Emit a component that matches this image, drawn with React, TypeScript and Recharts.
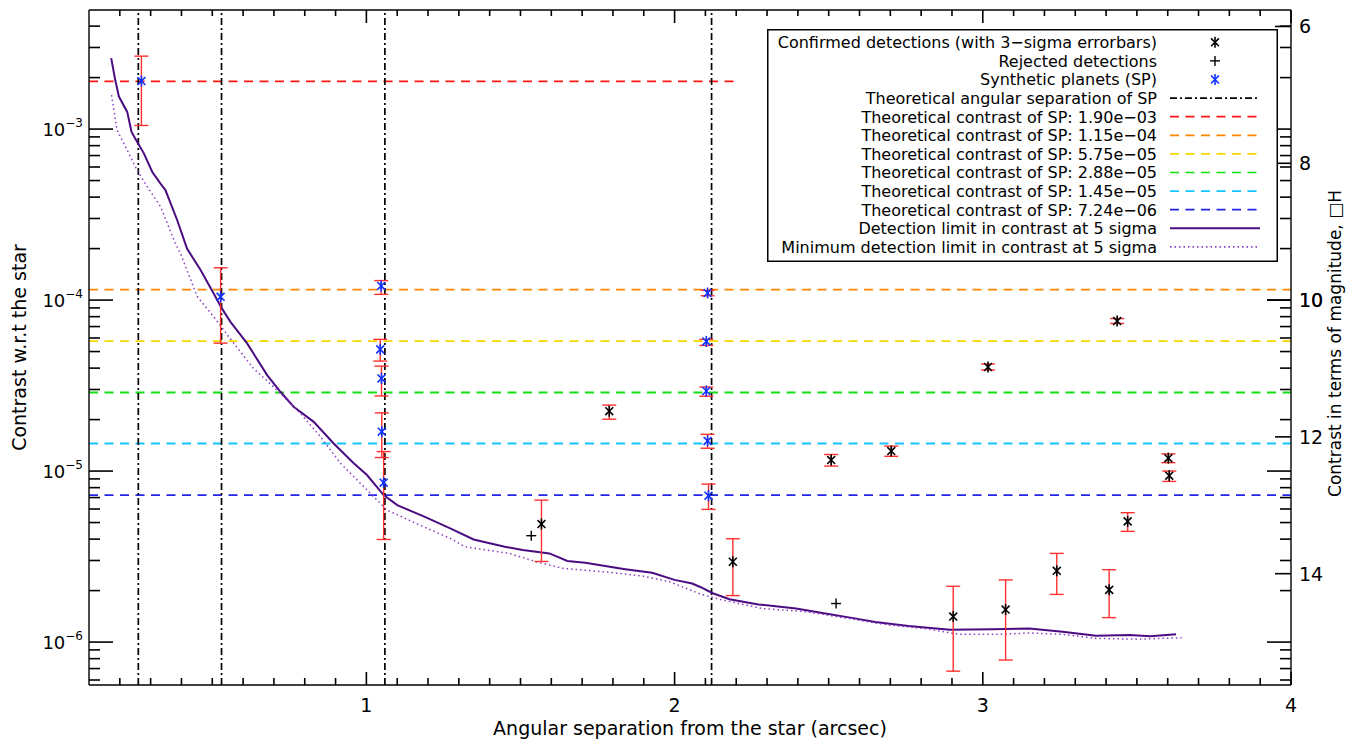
import React from "react";
import {
  ComposedChart,
  XAxis,
  YAxis,
  Line,
  Scatter,
  ErrorBar,
  ReferenceLine,
} from "recharts";

// detection limit curves (separation in arcsec, contrast w.r.t. the star)
const limitSep = [
  0.172, 0.185, 0.197, 0.224, 0.238, 0.256, 0.278, 0.305, 0.332, 0.348, 0.386,
  0.418, 0.462, 0.505, 0.529, 0.559, 0.613, 0.678, 0.721, 0.764, 0.829, 0.894,
  0.959, 1.002, 1.056, 1.1, 1.188, 1.272, 1.348, 1.449, 1.507, 1.594, 1.652,
  1.71, 1.84, 1.927, 2.0, 2.057, 2.083, 2.124, 2.178, 2.272, 2.394, 2.489, 2.57,
  2.651, 2.759, 2.894, 3.029, 3.151, 3.259, 3.367, 3.476, 3.543, 3.627,
];
const limitContrast = [
  2.6e-3, 1.94e-3, 1.55e-3, 1.26e-3, 9.63e-4, 8.43e-4, 7.21e-4, 5.63e-4, 4.8e-4,
  4.4e-4, 2.94e-4, 2.0e-4, 1.5e-4, 1.09e-4, 9.06e-5, 7.46e-5, 5.58e-5, 3.64e-5,
  2.91e-5, 2.38e-5, 1.94e-5, 1.45e-5, 1.11e-5, 9.48e-6, 7.24e-6, 6.32e-6,
  5.41e-6, 4.62e-6, 3.98e-6, 3.61e-6, 3.45e-6, 3.3e-6, 2.98e-6, 2.91e-6,
  2.67e-6, 2.54e-6, 2.31e-6, 2.2e-6, 2.1e-6, 1.93e-6, 1.78e-6, 1.66e-6, 1.57e-6,
  1.47e-6, 1.39e-6, 1.31e-6, 1.24e-6, 1.18e-6, 1.19e-6, 1.2e-6, 1.15e-6,
  1.09e-6, 1.1e-6, 1.08e-6, 1.11e-6,
];
const minLimitSep = [
  0.173, 0.191, 0.224, 0.256, 0.289, 0.332, 0.38, 0.397, 0.451, 0.505, 0.57,
  0.634, 0.71, 0.786, 0.851, 0.916, 0.981, 1.013, 1.067, 1.186, 1.272, 1.319,
  1.464, 1.551, 1.637, 1.768, 1.898, 1.985, 2.083, 2.151, 2.286, 2.421, 2.556,
  2.692, 2.827, 2.921, 3.056, 3.151, 3.259, 3.367, 3.502, 3.645,
];
const minLimitContrast = [
  1.58e-3, 9.86e-4, 7.53e-4, 5.75e-4, 4.6e-4, 3.52e-4, 2.15e-4, 1.87e-4,
  1.05e-4, 7.98e-5, 5.58e-5, 3.98e-5, 2.98e-5, 2.17e-5, 1.59e-5, 1.11e-5,
  8.47e-6, 7.41e-6, 5.91e-6, 4.72e-6, 4.04e-6, 3.61e-6, 3.3e-6, 2.95e-6, 2.7e-6,
  2.58e-6, 2.43e-6, 2.25e-6, 1.91e-6, 1.77e-6, 1.57e-6, 1.51e-6, 1.38e-6,
  1.26e-6, 1.19e-6, 1.11e-6, 1.11e-6, 1.13e-6, 1.11e-6, 1.05e-6, 1.04e-6,
  1.06e-6,
];

// synthetic planets (measured contrast with 3-sigma bounds)
const spSep = [0.27, 0.527, 1.048, 1.045, 1.049, 1.05, 1.056, 2.107, 2.103, 2.103, 2.107, 2.11];
const spContrast = [1.91e-3, 1.045e-4, 1.21e-4, 5.15e-5, 3.48e-5, 1.7e-5, 8.55e-6, 1.1e-4, 5.73e-5, 2.94e-5, 1.5e-5, 7.18e-6];
const spLow = [1.05e-3, 5.6e-5, 1.08e-4, 4.4e-5, 2.75e-5, 1.2e-5, 3.98e-6, 1.06e-4, 5.43e-5, 2.74e-5, 1.36e-5, 5.97e-6];
const spHigh = [2.67e-3, 1.545e-4, 1.3e-4, 5.89e-5, 4.11e-5, 2.19e-5, 1.3e-5, 1.14e-4, 5.89e-5, 3.1e-5, 1.64e-5, 8.39e-6];

// confirmed detections
const detSep = [1.568, 1.788, 2.189, 2.508, 2.703, 2.904, 3.017, 3.074, 3.24, 3.41, 3.436, 3.47, 3.602, 3.605];
const detContrast = [4.9e-6, 2.24e-5, 2.95e-6, 1.16e-5, 1.31e-5, 1.41e-6, 4.06e-5, 1.55e-6, 2.61e-6, 2.02e-6, 7.54e-5, 5.08e-6, 1.19e-5, 9.4e-6];
const detLow = [2.96e-6, 2.01e-5, 1.87e-6, 1.07e-5, 1.22e-5, 6.76e-7, 3.9e-5, 7.85e-7, 1.9e-6, 1.39e-6, 7.3e-5, 4.44e-6, 1.12e-5, 8.7e-6];
const detHigh = [6.76e-6, 2.43e-5, 4.02e-6, 1.25e-5, 1.4e-5, 2.12e-6, 4.23e-5, 2.31e-6, 3.3e-6, 2.65e-6, 7.8e-5, 5.71e-6, 1.26e-5, 1.0e-5];

// rejected detections
const rejSep = [1.535, 2.524];
const rejContrast = [4.19e-6, 1.68e-6];

// theoretical positions of the synthetic planets
const spTheoSep = [0.26, 0.53, 1.06, 2.12];
const spTheoContrast = [1.9e-3, 1.15e-4, 5.75e-5, 2.88e-5, 1.45e-5, 7.24e-6];
const redLineEnd = 2.2;

const X_DOMAIN = [0.1, 4];
const Y_DOMAIN = [5.61e-7, 4.97e-3];
const magTickLabels = [6, 8, 10, 12, 14];

const LEVEL_COLORS = ["#ff1414", "#ff8400", "#f7d700", "#12e012", "#14c4ff", "#2424e6"];
const LIMIT_COLOR = "#4b0c82";
const MIN_LIMIT_COLOR = "#8a3cc0";
const ERR_COLOR = "#ff3030";
const SP_COLOR = "#1030ff";
const FONT = "DejaVu Sans";

const toMag = (c: number) => -2.5 * Math.log10(c);
const MAG_DOMAIN = [toMag(Y_DOMAIN[1]), toMag(Y_DOMAIN[0])];

const limitData = limitSep.map((x, i) => ({ x, y: limitContrast[i] }));
const minLimitData = minLimitSep.map((x, i) => ({ x, y: minLimitContrast[i] }));
const spData = spSep.map((x, i) => ({
  x,
  y: spContrast[i],
  err: [spContrast[i] - spLow[i], spHigh[i] - spContrast[i]],
}));
const detData = detSep.map((x, i) => ({
  x,
  y: detContrast[i],
  err: [detContrast[i] - detLow[i], detHigh[i] - detContrast[i]],
}));
const rejData = rejSep.map((x, i) => ({ x, y: rejContrast[i] }));

// axis tick positions
const xTicks: number[] = [];
for (let i = 2; i <= 40; i++) xTicks.push(i / 10);
const yTicks: number[] = [];
for (let k = -7; k <= -3; k++) {
  for (let m = 1; m <= 9; m++) {
    const v = m * Math.pow(10, k);
    if (v >= Y_DOMAIN[0] && v <= Y_DOMAIN[1]) yTicks.push(v);
  }
}
const magTicks = [...magTickLabels, ...yTicks.map(toMag)];

const isInt = (v: number) => Math.abs(v - Math.round(v)) < 1e-6;
const TICK_STROKE = { stroke: "#000", strokeWidth: 1.6 };

function fmtContrast(v: number) {
  const [m, e] = v.toExponential(2).split("e");
  const n = parseInt(e, 10);
  return `${m}e${n < 0 ? "\u2212" : "+"}${String(Math.abs(n)).padStart(2, "0")}`;
}

function Asterisk({ cx, cy, color, r = 5.5 }: any) {
  const d = r * 0.72;
  return (
    <g stroke={color} strokeWidth={1.6}>
      <line x1={cx} y1={cy - r} x2={cx} y2={cy + r} />
      <line x1={cx - d} y1={cy - d} x2={cx + d} y2={cy + d} />
      <line x1={cx - d} y1={cy + d} x2={cx + d} y2={cy - d} />
    </g>
  );
}

function Plus({ cx, cy, color, r = 5 }: any) {
  return (
    <g stroke={color} strokeWidth={1.4}>
      <line x1={cx} y1={cy - r} x2={cx} y2={cy + r} />
      <line x1={cx - r} y1={cy} x2={cx + r} y2={cy} />
    </g>
  );
}

// ticks point inwards; the custom tick draws both the mark and the label
function BottomTick(props: any) {
  const x = Number(props.x);
  const y = Number(props.y);
  const major = isInt(props.payload.value);
  return (
    <g>
      <path d={`M${x},${y}V${y - (major ? 13 : 7)}`} {...TICK_STROKE} fill="none" />
      {major && (
        <text x={x} y={y + 27} textAnchor="middle" fontSize={19} fontFamily={FONT} fill="#000">
          {Math.round(props.payload.value)}
        </text>
      )}
    </g>
  );
}

function TopTick(props: any) {
  const x = Number(props.x);
  const y = Number(props.y);
  const major = isInt(props.payload.value);
  return <path d={`M${x},${y}V${y + (major ? 13 : 6)}`} {...TICK_STROKE} fill="none" />;
}

function LeftTick(props: any) {
  const x = Number(props.x);
  const y = Number(props.y);
  const lg = Math.log10(props.payload.value);
  const major = isInt(lg);
  return (
    <g>
      <path d={`M${x},${y}H${x + (major ? 24 : 11)}`} {...TICK_STROKE} fill="none" />
      {major && (
        <text x={x - 6} y={y + 6.5} textAnchor="end" fontSize={18} fontFamily={FONT} fill="#000">
          10
          <tspan dy={-8.5} fontSize={12}>
            {"\u2212" + Math.abs(Math.round(lg))}
          </tspan>
        </text>
      )}
    </g>
  );
}

function RightTick(props: any) {
  const x = Number(props.x);
  const y = Number(props.y);
  const v = props.payload.value;
  const label = isInt(v) && magTickLabels.includes(Math.round(v));
  const decade = isInt(v / 2.5);
  const len = decade ? 24 : label ? 16 : 11;
  return (
    <g>
      <path d={`M${x},${y}H${x - len}`} {...TICK_STROKE} fill="none" />
      {label && (
        <text x={x + 8} y={y + 7} textAnchor="start" fontSize={19} fontFamily={FONT} fill="#000">
          {Math.round(v)}
        </text>
      )}
    </g>
  );
}

const legendRows = [
  { label: "Confirmed detections (with 3\u2212sigma errorbars)", kind: "asterisk", color: "#000" },
  { label: "Rejected detections", kind: "plus", color: "#000" },
  { label: "Synthetic planets (SP)", kind: "asterisk", color: SP_COLOR },
  { label: "Theoretical angular separation of SP", kind: "dashdot", color: "#000" },
  ...spTheoContrast.map((v, i) => ({
    label: `Theoretical contrast of SP: ${fmtContrast(v)}`,
    kind: "dash",
    color: LEVEL_COLORS[i],
  })),
  { label: "Detection limit in contrast at 5 sigma", kind: "solid", color: LIMIT_COLOR },
  { label: "Minimum detection limit in contrast at 5 sigma", kind: "dot", color: MIN_LIMIT_COLOR },
];

function LegendBox() {
  const w = 511;
  const h = 233;
  return (
    <svg
      width={w}
      height={h}
      style={{ position: "absolute", left: 767, top: 29 }}
      fontFamily={FONT}
    >
      <rect x={0.75} y={0.75} width={w - 1.5} height={h - 1.5} fill="#fff" stroke="#000" strokeWidth={1.5} />
      {legendRows.map((row, i) => {
        const yc = 13.3 + i * 18.6;
        let sym: React.ReactNode = null;
        if (row.kind === "asterisk") sym = <Asterisk cx={448} cy={yc} color={row.color} />;
        else if (row.kind === "plus") sym = <Plus cx={448} cy={yc} color={row.color} />;
        else {
          const dash =
            row.kind === "dashdot" ? "7 3 2 3" : row.kind === "dash" ? "9 6.5" : row.kind === "dot" ? "1.5 3" : undefined;
          sym = (
            <line
              x1={403}
              x2={493}
              y1={yc}
              y2={yc}
              stroke={row.color}
              strokeWidth={row.kind === "solid" ? 2 : 1.7}
              strokeDasharray={dash}
            />
          );
        }
        return (
          <g key={row.label}>
            <text x={390} y={yc + 5.8} textAnchor="end" fontSize={16} fill="#000">
              {row.label}
            </text>
            {sym}
          </g>
        );
      })}
    </svg>
  );
}

const axisLine = { stroke: "#000", strokeWidth: 1.4 };

export default function App() {
  return (
    <div style={{ position: "relative", width: 1352, height: 740, background: "#fff" }}>
      <style>{"body{margin:0;}"}</style>
      <ComposedChart
        width={1352}
        height={740}
        margin={{ top: 0, right: 0, bottom: 0, left: 0 }}
        style={{ fontFamily: FONT }}
      >
        <XAxis
          xAxisId={0}
          type="number"
          dataKey="x"
          domain={X_DOMAIN}
          allowDataOverflow
          ticks={xTicks}
          interval={0}
          tickSize={0}
          tickMargin={0}
          tickLine={false}
          tick={(p: any) => <BottomTick {...p} />}
          axisLine={axisLine}
          height={55}
          label={{
            content: ({ viewBox }: any) => (
              <text
                x={viewBox.x + viewBox.width / 2}
                y={viewBox.y + 50}
                textAnchor="middle"
                fontSize={19}
                fontFamily={FONT}
                fill="#000"
              >
                Angular separation from the star (arcsec)
              </text>
            ),
          }}
        />
        <XAxis
          xAxisId="top"
          orientation="top"
          type="number"
          dataKey="x"
          domain={X_DOMAIN}
          allowDataOverflow
          ticks={xTicks}
          interval={0}
          tickSize={0}
          tickMargin={0}
          tickLine={false}
          tick={(p: any) => <TopTick {...p} />}
          axisLine={axisLine}
          height={10}
        />
        <YAxis
          yAxisId={0}
          type="number"
          scale="log"
          dataKey="y"
          domain={Y_DOMAIN}
          allowDataOverflow
          ticks={yTicks}
          interval={0}
          tickSize={0}
          tickMargin={0}
          tickLine={false}
          tick={(p: any) => <LeftTick {...p} />}
          axisLine={axisLine}
          width={89}
          label={{
            content: ({ viewBox }: any) => (
              <text
                transform={`translate(${viewBox.x + 19.5},${viewBox.y + viewBox.height / 2}) rotate(-90)`}
                textAnchor="middle"
                dy="0.36em"
                fontSize={19}
                fontFamily={FONT}
                fill="#000"
              >
                Contrast w.r.t the star
              </text>
            ),
          }}
        />
        <YAxis
          yAxisId="mag"
          orientation="right"
          type="number"
          domain={MAG_DOMAIN}
          reversed
          allowDataOverflow
          ticks={magTicks}
          interval={0}
          tickSize={0}
          tickMargin={0}
          tickLine={false}
          tick={(p: any) => <RightTick {...p} />}
          axisLine={axisLine}
          width={61}
          label={{
            content: ({ viewBox }: any) => (
              <text
                transform={`translate(${viewBox.x + 44},${viewBox.y + viewBox.height / 2 - 4}) rotate(-90)`}
                textAnchor="middle"
                dy="0.36em"
                fontSize={17}
                fontFamily={FONT}
                fill="#000"
              >
                {"Contrast in terms of magnitude, \u25A1H"}
              </text>
            ),
          }}
        />

        <ReferenceLine
          segment={[
            { x: X_DOMAIN[0], y: spTheoContrast[0] },
            { x: redLineEnd, y: spTheoContrast[0] },
          ]}
          stroke={LEVEL_COLORS[0]}
          strokeWidth={1.8}
          strokeDasharray="9 6.5"
        />
        {spTheoContrast.slice(1).map((v, i) => (
          <ReferenceLine
            key={`h${v}`}
            y={v}
            stroke={LEVEL_COLORS[i + 1]}
            strokeWidth={1.8}
            strokeDasharray="9 6.5"
          />
        ))}
        {spTheoSep.map((v) => (
          <ReferenceLine key={`v${v}`} x={v} stroke="#000" strokeWidth={1.7} strokeDasharray="7 3 2 3" />
        ))}

        <Line
          data={limitData}
          dataKey="y"
          type="linear"
          stroke={LIMIT_COLOR}
          strokeWidth={2}
          dot={false}
          isAnimationActive={false}
        />
        <Line
          data={minLimitData}
          dataKey="y"
          type="linear"
          stroke={MIN_LIMIT_COLOR}
          strokeWidth={1.5}
          strokeDasharray="1.5 3"
          dot={false}
          isAnimationActive={false}
        />

        <Scatter
          data={detData}
          dataKey="y"
          isAnimationActive={false}
          shape={(p: any) => <Asterisk cx={p.cx} cy={p.cy} color="#000" />}
        >
          <ErrorBar dataKey="err" direction="y" width={7} stroke={ERR_COLOR} strokeWidth={1.4} />
        </Scatter>
        <Scatter
          data={spData}
          dataKey="y"
          isAnimationActive={false}
          shape={(p: any) => <Asterisk cx={p.cx} cy={p.cy} color={SP_COLOR} />}
        >
          <ErrorBar dataKey="err" direction="y" width={7} stroke={ERR_COLOR} strokeWidth={1.4} />
        </Scatter>
        <Scatter
          data={rejData}
          dataKey="y"
          isAnimationActive={false}
          shape={(p: any) => <Plus cx={p.cx} cy={p.cy} color="#000" />}
        />
      </ComposedChart>
      <LegendBox />
    </div>
  );
}
